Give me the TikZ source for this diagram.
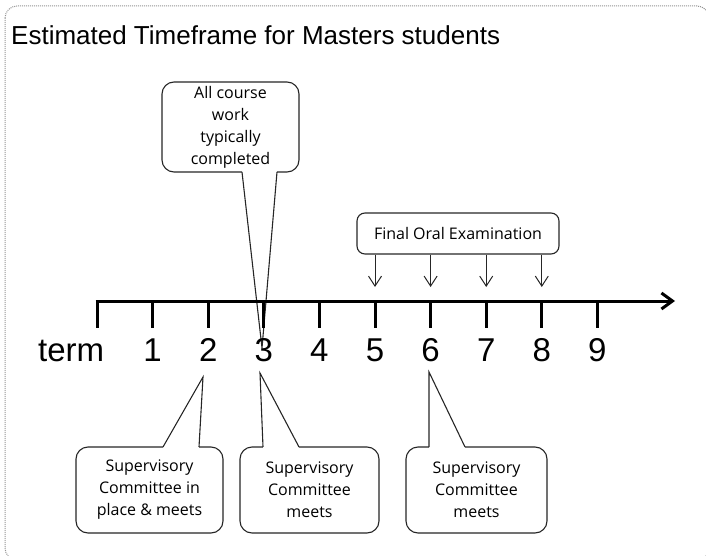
\documentclass[tikz,border=0pt]{standalone}
\usepackage{fontspec}
\setmainfont{Liberation Sans}
\newfontfamily\boxfont{Open Sans}
\usetikzlibrary{arrows.meta}
\tikzset{
  callbox/.style={draw=black!85, line width=1.1pt, rounded corners=12pt, fill=white,
    align=center, font=\boxfont\fontsize{16}{22}\selectfont, inner sep=0pt},
  ptr/.style={draw=black!85, line width=1.1pt, line join=miter},
  cover/.style={fill=white},
  numlab/.style={font=\fontsize{33}{36}\selectfont, anchor=base, inner sep=0pt},
  axisline/.style={line width=3pt, -{Straight Barb[length=11pt,width=16pt]}},
  tickline/.style={line width=3pt},
  foarrow/.style={line width=1pt, black!85, -{Straight Barb[length=10pt,width=13pt]}},
  border/.style={draw=gray!85, line width=1pt, dash pattern=on 1pt off 1pt, rounded corners=12pt}
}
\begin{document}
\begin{tikzpicture}[x=1pt,y=-1pt]
\useasboundingbox (0,0) rectangle (706,556);
\begin{scope}
  \clip (0,0) rectangle (706,556);
  \path[border] (5,6) rectangle (709,560);
\end{scope}

% title
\node[anchor=base west, inner sep=0pt, font=\fontsize{26}{30}\selectfont] (title) at (11,45) {Estimated Timeframe for Masters students};

% callout: course work
\node[callbox, minimum width=137pt, minimum height=90pt] (cw) at (230.5,127) {All course\\work\\typically\\completed};
\coordinate (cwtip) at (262,348);
\fill[cover] (242,169.5) rectangle (277,174.5);
\draw[ptr] (242,172) -- (cwtip) -- (277,172);

% callout: committee 1
\node[callbox, minimum width=147pt, minimum height=86pt] (sc1) at (149.5,490) {Supervisory\\Committee in\\place \& meets};
\coordinate (sc1tip) at (203,377);
\fill[cover] (163,444.5) rectangle (199,449.5);
\draw[ptr] (163,447) -- (sc1tip) -- (199,447);

% callout: committee 2
\node[callbox, minimum width=139pt, minimum height=86pt] (sc2) at (309.5,490) {Supervisory\\Committee\\meets};
\coordinate (sc2tip) at (260,373);
\fill[cover] (263,444.5) rectangle (299,449.5);
\draw[ptr] (263,447) -- (sc2tip) -- (299,447);

% callout: committee 3
\node[callbox, minimum width=141pt, minimum height=86pt] (sc3) at (476.5,490) {Supervisory\\Committee\\meets};
\coordinate (sc3tip) at (429,372);
\fill[cover] (429,444.5) rectangle (465,449.5);
\draw[ptr] (429,447) -- (sc3tip) -- (465,447);

% axis
\foreach \i in {0,...,9} {
  \coordinate (k\i) at (97+55.6*\i,301);
  \draw[tickline] (97+55.6*\i,301) -- (97+55.6*\i,328);
}
\coordinate (axend) at (675,301);
\draw[axisline] (95.5,301) -- (axend);

% labels
\node[numlab, anchor=base west] (term) at (38,361) {term};
\foreach \i in {1,...,9} {
  \node[numlab] (n\i) at (97+55.6*\i,361) {\i};
}

% final oral
\node[draw=black!85, line width=1.1pt, rounded corners=8pt, minimum width=202pt, minimum height=41pt,
  font=\boxfont\fontsize{16}{22}\selectfont, inner sep=0pt] (fo) at (458,233.5) {Final Oral Examination};
\foreach \i in {5,...,8} {
  \coordinate (a\i) at (97+55.6*\i,287);
  \draw[foarrow] (fo.south -| a\i) -- (a\i);
}
\end{tikzpicture}
\end{document}
